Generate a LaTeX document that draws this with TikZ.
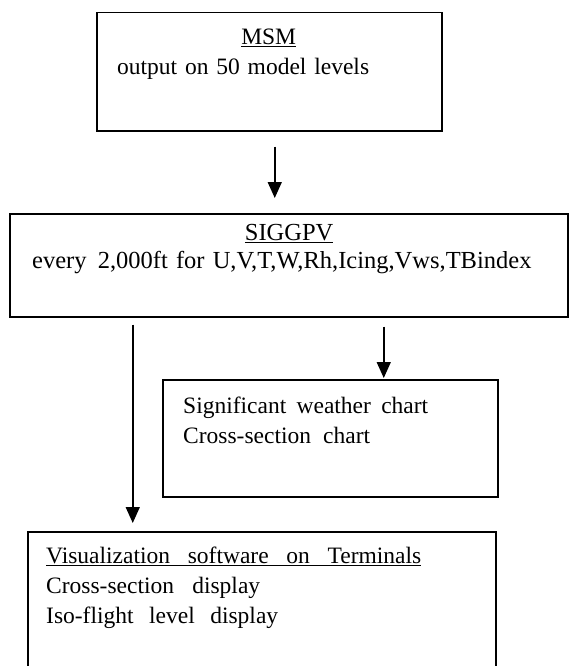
\documentclass[tikz,border=0pt]{standalone}
\usepackage{fontspec}
\setmainfont{Liberation Serif}
\usepackage{tikz}
\usetikzlibrary{arrows.meta}

\begin{document}
\begin{tikzpicture}[x=1pt,y=-1pt,
			main node/.style={rectangle,draw,line width=1.5pt,
				inner sep=0pt,anchor=north west},
			main text/.style={anchor=base west,inner sep=0pt,align=left,
				font=\fontsize{23.5}{30}\selectfont},
			flow/.style={line width=1.5pt,-{Triangle[length=16pt,width=14pt]}}]
			
			\useasboundingbox (0,0) rectangle (568,666);
			
			\node[main node,minimum width=345pt,minimum height=118pt] (A) at (96,12) {};
			\node[main node,minimum width=558pt,minimum height=103pt] (B) at (9,213) {};
			\node[main node,minimum width=335pt,minimum height=117pt] (C) at (162,379) {};
			\node[main node,minimum width=468pt,minimum height=150pt] (D) at (27,531) {};
			
			\node[main text,text width=303pt] (A1) at (117,45)
			{\makebox[303pt]{\underline{MSM}}\\output on 50 model levels};
			\node[main text,text width=514pt,font=\fontsize{24.5}{28}\selectfont] (B1) at (32,240)
			{\makebox[514pt]{\underline{SIGGPV}}\\
				every\hspace{3pt} 2,000ft for U,V,T,W,Rh,Icing,Vws,TBindex};
			\node[main text,text width=300pt] (C1) at (183,413)
			{\makebox[245pt][s]{Significant\hfill weather\hfill chart}\\
				\makebox[187pt][s]{Cross-section\hfill chart}};
			\node[main text,text width=400pt] (D1) at (46,563)
			{\underline{\makebox[375pt][s]{Visualization\hfill software\hfill on\hfill Terminals}}\\
				\makebox[214pt][s]{Cross-section\hfill display}\\
				\makebox[232pt][s]{Iso-flight\hfill level\hfill display}};
			
			\coordinate (a) at ([xshift=5.5pt]A.south);
			\coordinate (b) at (a |- B.north);
			\coordinate (c) at ([xshift=53.5pt]C.north);
			\coordinate (d) at ([xshift=-129pt]D.north);
			
			\path[flow]
			(a) edge[shorten <=15pt,shorten >=15pt] (b)
			(c |- B.south) edge[shorten <=9pt,shorten >=1pt] (c)
			(d |- B.south) edge[shorten <=7pt,shorten >=8pt] (d);
			
		\end{tikzpicture}
\end{document}
